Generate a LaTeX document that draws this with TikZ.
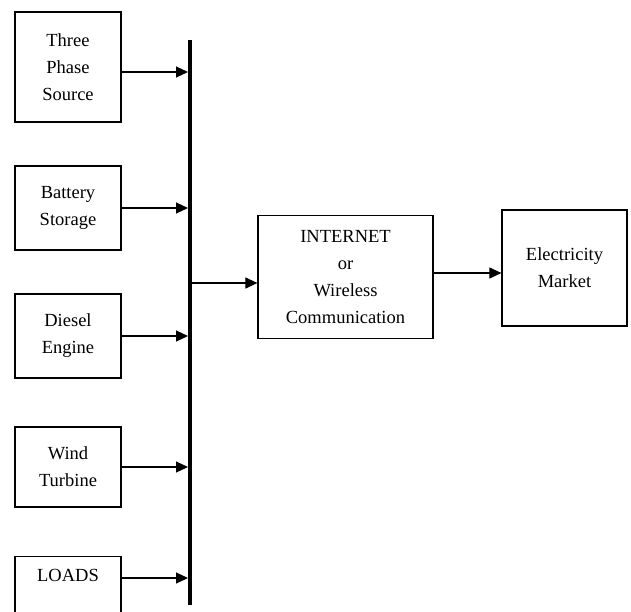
\documentclass[tikz,border=0pt]{standalone}
\usepackage{fontspec}
\setmainfont{Liberation Serif}
\usetikzlibrary{arrows.meta}
\tikzset{
block/.style={
  draw,
  line width=1.2pt,
  rectangle,
  align=center,
  inner sep=0pt,
  font=\fontsize{18.5}{27}\selectfont
},
feed/.style={
  line width=1.1pt,
  -{Triangle[length=12pt,width=11pt]}
},
bus/.style={line width=4pt},
}

\begin{document}
\begin{tikzpicture}[x=1pt,y=-1pt]
\useasboundingbox (0,0) rectangle (631,611);
% the sources
\node[block,minimum width=106pt,minimum height=110pt] (src)   at (68,67)  {Three\\Phase\\Source};
\node[block,minimum width=106pt,minimum height=84pt]  (bat)   at (68,208) {Battery\\Storage};
\node[block,minimum width=106pt,minimum height=84pt]  (dsl)   at (68,336) {Diesel\\Engine};
\node[block,minimum width=106pt,minimum height=80pt]  (wind)  at (68,467) {Wind\\Turbine};
\node[block,minimum width=106pt,anchor=north,inner ysep=13pt,text depth=45pt] (loads) at (68,556) {LOADS};
% the bus
\coordinate (bustop) at (190,40);
\coordinate (busbot) at (190,605);
\coordinate (busout) at (190,283);
\draw[bus] (bustop) -- (busbot);
% the right side
\node[block,minimum width=175pt,minimum height=123pt] (net) at (345.5,277) {INTERNET\\or\\Wireless\\Communication};
\node[block,minimum width=125pt,minimum height=116pt] (mkt) at (564.5,268) {Electricity\\Market};
% the arrows
\draw[feed] ([yshift=-5pt]src.east) -- ([xshift=-2pt,yshift=-5pt]src.east -| bustop);
\foreach \s in {bat,dsl,wind}
{
  \draw[feed] (\s.east) -- ([xshift=-2pt]\s.east -| bustop);
}
\draw[feed] ([yshift=-22pt]loads.north east) -- ([xshift=-2pt,yshift=-22pt]loads.north east -| bustop);
\draw[feed] (busout) -- (busout -| net.west);
\draw[feed] ([yshift=-5pt]mkt.west -| net.east) -- ([yshift=-5pt]mkt.west);
\end{tikzpicture}
\end{document}
